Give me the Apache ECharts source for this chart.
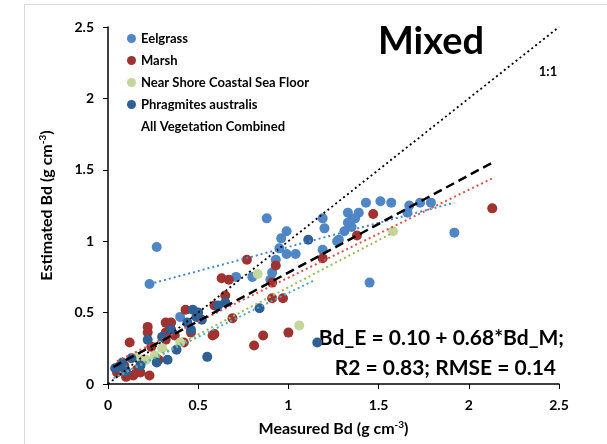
<!DOCTYPE html>
<html>
<head>
<meta charset="utf-8">
<script src="https://cdn.jsdelivr.net/npm/echarts@6/dist/echarts.min.js"></script>
<style>
  html, body { margin: 0; padding: 0; background: #fff; }
  #chart { width: 607px; height: 444px; }
</style>
</head>
<body>
<div id="chart"></div>
<script>
// 数据
var eelgrass = [
  [0.23, 0.70], [0.27, 0.96], [0.40, 0.47], [0.71, 0.75], [0.80, 0.75], [0.88, 1.16],
  [0.90, 0.73], [0.91, 0.78], [0.93, 0.87], [0.95, 0.95], [0.96, 1.02], [0.99, 1.07],
  [0.99, 0.91], [1.04, 0.91], [1.19, 1.16], [1.20, 1.09], [1.19, 0.94], [1.27, 1.00],
  [1.28, 1.01], [1.31, 1.07], [1.33, 1.20], [1.33, 1.13], [1.35, 1.15], [1.35, 1.10],
  [1.37, 1.16], [1.39, 1.20], [1.43, 1.27], [1.45, 0.71], [1.51, 1.28], [1.57, 1.27],
  [1.66, 1.20], [1.67, 1.25], [1.73, 1.27], [1.79, 1.27], [1.92, 1.06]
];
var marsh = [
  [0.05, 0.08], [0.09, 0.13], [0.10, 0.05], [0.12, 0.29], [0.14, 0.06], [0.16, 0.10],
  [0.18, 0.08], [0.20, 0.17], [0.22, 0.36], [0.22, 0.40], [0.23, 0.06], [0.24, 0.26],
  [0.28, 0.17], [0.32, 0.31], [0.32, 0.36], [0.32, 0.43], [0.34, 0.41], [0.35, 0.43],
  [0.37, 0.34], [0.42, 0.29], [0.43, 0.52], [0.46, 0.36], [0.58, 0.34], [0.59, 0.35],
  [0.59, 0.55], [0.63, 0.74], [0.65, 0.62], [0.67, 0.73], [0.69, 0.46], [0.77, 0.87],
  [0.81, 0.27], [0.86, 0.34], [0.91, 0.71], [0.91, 0.60], [0.93, 0.83], [0.97, 0.60],
  [1.00, 0.36], [1.19, 0.88], [1.38, 1.04], [1.47, 1.19], [2.13, 1.23]
];
var nearShore = [
  [0.08, 0.11], [0.16, 0.19], [0.21, 0.17], [0.26, 0.20], [0.30, 0.25], [0.40, 0.29],
  [0.83, 0.77], [1.06, 0.41], [1.58, 1.07]
];
var phragmites = [
  [0.04, 0.11], [0.06, 0.12], [0.08, 0.15], [0.10, 0.09], [0.13, 0.18], [0.18, 0.13],
  [0.22, 0.31], [0.27, 0.15], [0.30, 0.33], [0.33, 0.17], [0.35, 0.38], [0.38, 0.24],
  [0.44, 0.43], [0.46, 0.38], [0.47, 0.52], [0.49, 0.47], [0.50, 0.50], [0.52, 0.45],
  [0.55, 0.19], [0.61, 0.55], [0.65, 0.57], [0.84, 0.53], [1.11, 1.01], [1.16, 0.29]
];

// trend lines (end points)
var oneToOne = [[0, 0], [2.5, 2.5]];
var allFit = [[0.03, 0.12], [2.13, 1.55]];
var eelFit = [[0.23, 0.70], [1.92, 1.27]];
var marshFit = [[0.05, 0.16], [2.13, 1.44]];
var nearFit = [[0.08, 0.07], [1.58, 1.06]];
var phragFit = [[0.03, 0.04], [1.15, 0.73]];

var legendNames = ['Eelgrass', 'Marsh', 'Near Shore Coastal Sea Floor', 'Phragmites australis', 'All Vegetation Combined'];

var font = 'Lato, "Open Sans", sans-serif';
var myChart = echarts.init(document.getElementById('chart'));

function pts(name, data, color) {
  return {
    name: name, type: 'scatter', data: data, symbolSize: 10,
    itemStyle: { color: color, opacity: 1 }, z: 3
  };
}
function fit(name, data, color, dash, width) {
  return {
    name: name, type: 'line', data: data, symbol: 'none', silent: true,
    lineStyle: { color: color, type: dash, width: width }, z: 4
  };
}

var option = {
  animation: false,
  grid: { left: 108, right: 48, top: 27, bottom: 60 },
  legend: {
    orient: 'vertical', left: 122, top: 27, icon: 'circle',
    itemWidth: 9, itemHeight: 9, itemGap: 9,
    textStyle: { fontFamily: font, fontWeight: 'bold', fontSize: 13, color: '#000' },
    data: [
      { name: legendNames[0] }, { name: legendNames[1] }, { name: legendNames[2] },
      { name: legendNames[3] }, { name: legendNames[4], itemStyle: { opacity: 0 } }
    ],
    selectedMode: false
  },
  xAxis: {
    type: 'value', min: 0, max: 2.5, interval: 0.5,
    name: 'Measured Bd (g cm{sup|-3})', nameLocation: 'middle', nameGap: 36,
    nameTextStyle: {
      fontFamily: font, fontSize: 16, fontWeight: 'bold', color: '#000',
      rich: { sup: { fontFamily: font, fontSize: 10, fontWeight: 'bold', verticalAlign: 'top', padding: [0, 0, 8, 0] } }
    },
    axisLine: { lineStyle: { color: '#000', width: 1.5 } },
    axisTick: { inside: false, length: 5, lineStyle: { color: '#000' } },
    axisLabel: { margin: 14, fontFamily: font, fontWeight: 'bold', fontSize: 14, color: '#000' },
    splitLine: { show: false }
  },
  yAxis: {
    type: 'value', min: 0, max: 2.5, interval: 0.5,
    name: 'Estimated Bd (g cm{sup|-3})', nameLocation: 'middle', nameGap: 52,
    nameTextStyle: {
      fontFamily: font, fontSize: 16, fontWeight: 'bold', color: '#000',
      rich: { sup: { fontFamily: font, fontSize: 10, fontWeight: 'bold', verticalAlign: 'top', padding: [0, 0, 8, 0] } }
    },
    axisLine: { show: true, lineStyle: { color: '#000', width: 1.5 } },
    axisTick: { show: true, inside: false, length: 5, lineStyle: { color: '#000' } },
    axisLabel: { margin: 14, fontFamily: font, fontWeight: 'bold', fontSize: 14, color: '#000' },
    splitLine: { show: false }
  },
  graphic: [
    { type: 'line', shape: { x1: 24.5, y1: 4, x2: 24.5, y2: 444 }, style: { stroke: '#d9d9d9', lineWidth: 1 } },
    { type: 'line', shape: { x1: 24, y1: 4.5, x2: 607, y2: 4.5 }, style: { stroke: '#d9d9d9', lineWidth: 1 } },
    { type: 'text', x: 431, y: 42, style: { text: 'Mixed', font: 'bold 38px ' + font, fill: '#000', textAlign: 'center', textVerticalAlign: 'middle' } },
    { type: 'text', x: 548, y: 72, style: { text: '1:1', font: 'bold 13px ' + font, fill: '#000', textAlign: 'center', textVerticalAlign: 'middle' } },
    { type: 'text', x: 564, y: 338, style: { text: 'Bd_E = 0.10 + 0.68*Bd_M;', font: 'bold 21px ' + font, fill: '#000', textAlign: 'right', textVerticalAlign: 'middle' } },
    { type: 'text', x: 556, y: 368, style: { text: 'R2 = 0.83; RMSE = 0.14', font: 'bold 21px ' + font, fill: '#000', textAlign: 'right', textVerticalAlign: 'middle' } }
  ],
  series: [
    pts(legendNames[0], eelgrass, '#4f86c6'),
    pts(legendNames[1], marsh, '#a0332f'),
    pts(legendNames[2], nearShore, '#c3d69b'),
    pts(legendNames[3], phragmites, '#2f5f94'),
    fit('1:1', oneToOne, '#000', [2, 3], 1.8),
    fit('eelFit', eelFit, '#4a86c8', [2, 3], 2),
    fit('marshFit', marshFit, '#d9534f', [2, 3], 2),
    fit('nearFit', nearFit, '#9bbb59', [2, 3], 2),
    fit('phragFit', phragFit, '#4bacc6', [2, 3], 2),
    fit(legendNames[4], allFit, '#000', [9, 5], 2.5)
  ]
};

myChart.setOption(option);
</script>
</body>
</html>
